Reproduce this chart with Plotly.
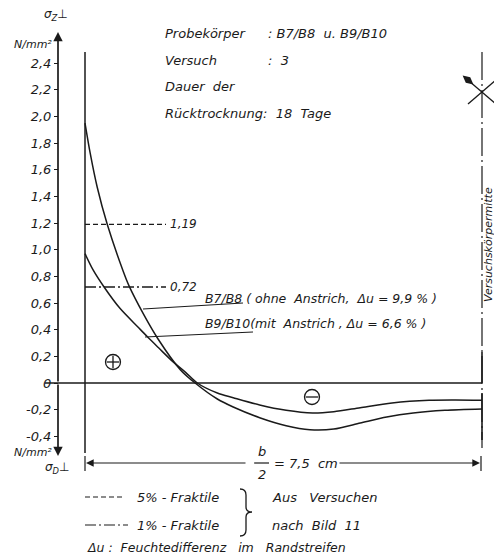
import plotly.graph_objects as go

# ---------------- data ----------------
x_b78 = [0, 0.1, 0.23, 0.42, 0.72, 0.83, 1.1, 1.38, 1.8, 2.08, 2.5, 2.8, 3.3, 3.8, 4.25, 4.7, 5.2, 5.7, 6.2, 6.8, 7.5]
y_b78 = [1.95, 1.72, 1.47, 1.19, 0.84, 0.73, 0.52, 0.33, 0.10, 0.0, -0.12, -0.18, -0.26, -0.32, -0.35, -0.345, -0.30, -0.255, -0.225, -0.205, -0.195]

x_b910 = [0, 0.15, 0.36, 0.66, 1.0, 1.17, 1.4, 1.66, 1.9, 2.12, 2.5, 2.8, 3.3, 3.8, 4.3, 4.7, 5.2, 5.8, 6.5, 7.0, 7.5]
y_b910 = [0.97, 0.85, 0.72, 0.56, 0.42, 0.35, 0.26, 0.16, 0.08, 0.0, -0.075, -0.11, -0.165, -0.205, -0.225, -0.215, -0.185, -0.15, -0.13, -0.128, -0.13]

fraktile_vals = [1.19, 0.72]
fraktile_labels = ["1,19", "0,72"]

tick_vals = [2.4, 2.2, 2.0, 1.8, 1.6, 1.4, 1.2, 1.0, 0.8, 0.6, 0.4, 0.2, 0, -0.2, -0.4]
tick_text = ["2,4", "2,2", "2,0", "1,8", "1,6", "1,4", "1,2", "1,0", "0,8", "0,6", "0,4", "0,2", "0", "-0,2", "-0,4"]

b_half = 7.5

# ---------------- layout helpers (pixel -> axis units) ----------------
W, H = 494, 557
PX_X0, PX_XE = 85, 482
SX = (PX_XE - PX_X0) / b_half
PX_Y0 = 383
SY = 133.33


def X(px):
    return (px - PX_X0) / SX


def Y(py):
    return (PX_Y0 - py) / SY


FONT = "DejaVu Sans"
BLACK = "#1a1a1a"

fig = go.Figure()

# stress curves
for xs, ys in [(x_b78, y_b78), (x_b910, y_b910)]:
    fig.add_trace(go.Scatter(x=xs, y=ys, mode="lines",
                             line=dict(color=BLACK, width=1.5, shape="spline", smoothing=0.8),
                             hoverinfo="skip", showlegend=False))

# fractile lines
dashes = ["5px,3px", "11px,3px,2px,3px"]
for v, lab, d in zip(fraktile_vals, fraktile_labels, dashes):
    fig.add_trace(go.Scatter(x=[0, X(166)], y=[v, v], mode="lines",
                             line=dict(color=BLACK, width=1.3, dash=d),
                             hoverinfo="skip", showlegend=False))
    fig.add_annotation(x=X(168), y=v, text=lab, showarrow=False, xanchor="left",
                       font=dict(family=FONT, size=12, style="italic", color=BLACK))

shapes = []


def line(px0, py0, px1, py1, w=1.4, dash=None):
    d = dict(type="line", xref="x", yref="y", x0=X(px0), y0=Y(py0), x1=X(px1), y1=Y(py1),
             line=dict(color=BLACK, width=w))
    if dash:
        d["line"]["dash"] = dash
    shapes.append(d)


# left boundary (x = 0)
line(85, 52, 85, 453, 1.5)
# zero line
line(45, 383, 482, 383, 1.6)
# centre line (Versuchskörpermitte)
line(482, 52, 482, 448, 1.2, "28px,4px,2px,4px")
line(482, 352, 482, 383, 1.6)
line(482, 393, 482, 440, 1.6)
# symmetry symbol
line(469, 81, 496, 104, 1.3)
line(468, 104, 496, 80, 1.3)
# leader lines
line(143, 309, 243, 303, 1.2)
line(145, 337, 253, 332, 1.2)
# dimension line ticks
line(85, 456, 85, 471, 1.2)
line(481, 456, 481, 471, 1.2)
# fraction bar
line(254, 463, 269, 463, 1.2)
# legend samples
line(85, 497, 125, 497, 1.2, "5px,3px")
line(85, 525, 128, 525, 1.2, "11px,3px,2px,3px")

# brace
path = (f"M {X(240)},{Y(489)} Q {X(246)},{Y(489)} {X(246)},{Y(495)} L {X(246)},{Y(507)} "
        f"Q {X(246)},{Y(512)} {X(252)},{Y(512)} Q {X(246)},{Y(512)} {X(246)},{Y(517)} "
        f"L {X(246)},{Y(530)} Q {X(246)},{Y(536)} {X(240)},{Y(536)}")
shapes.append(dict(type="path", xref="x", yref="y", path=path, line=dict(color=BLACK, width=1.3)))

fig.update_layout(shapes=shapes)

# diamond flag of symmetry symbol, circled signs
fig.add_trace(go.Scatter(x=[X(468)], y=[Y(80)], mode="markers",
                         marker=dict(symbol="diamond-wide", size=10, color=BLACK, angle=40),
                         hoverinfo="skip", showlegend=False))
fig.add_trace(go.Scatter(x=[X(113), X(312)], y=[Y(362), Y(397)], mode="markers",
                         marker=dict(symbol="circle-open", size=15, color=BLACK,
                                     line=dict(width=1.3, color=BLACK)),
                         hoverinfo="skip", showlegend=False))
fig.add_trace(go.Scatter(x=[X(113), X(312)], y=[Y(362), Y(397)], mode="markers",
                         marker=dict(symbol="line-ew-open", size=9, color=BLACK,
                                     line=dict(width=1.3, color=BLACK)),
                         hoverinfo="skip", showlegend=False))
fig.add_trace(go.Scatter(x=[X(113)], y=[Y(362)], mode="markers",
                         marker=dict(symbol="line-ns-open", size=9, color=BLACK,
                                     line=dict(width=1.3, color=BLACK)),
                         hoverinfo="skip", showlegend=False))


def text(px, py, s, size=13, anchor="left", angle=0):
    fig.add_annotation(x=X(px), y=Y(py), text=s, showarrow=False, xanchor=anchor, yanchor="middle",
                       textangle=angle,
                       font=dict(family=FONT, size=size, style="italic", color=BLACK))


# header texts
text(163, 33, "Probekörper")
text(266, 33, ": B7/B8  u. B9/B10")
text(163, 60, "Versuch")
text(266, 60, ":  3")
text(163, 86, "Dauer  der")
text(163, 113, "Rücktrocknung:  18  Tage")

# curve labels
text(203, 298, "B7/B8 ( ohne  Anstrich,  Δu = 9,9 % )", 12.5)
text(203, 323, "B9/B10(mit  Anstrich , Δu = 6,6 % )", 12.5)

# axis labels
text(56, 15, "σ<sub>Z</sub>⊥", 12, "center")
text(54, 44, "N/mm²", 11, "right")
text(54, 452, "N/mm²", 11, "right")
text(57, 468, "σ<sub>D</sub>⊥", 12, "center")

# right vertical label
text(488, 245, "Versuchskörpermitte", 11, "center", -90)

# dimension
text(262, 451, "b", 13, "center")
text(262, 474, "2", 13, "center")
text(272, 463, "= 7,5  cm", 13)
fig.add_annotation(x=X(86), y=Y(463), ax=X(247), ay=Y(463), axref="x", ayref="y",
                   text="", showarrow=True, arrowhead=2, arrowsize=1.4, arrowwidth=1.1, arrowcolor=BLACK)
fig.add_annotation(x=X(480), y=Y(463), ax=X(338), ay=Y(463), axref="x", ayref="y",
                   text="", showarrow=True, arrowhead=2, arrowsize=1.4, arrowwidth=1.1, arrowcolor=BLACK)

# y axis arrows
fig.add_annotation(x=X(58), y=Y(32), ax=X(58), ay=Y(383), axref="x", ayref="y",
                   text="", showarrow=True, arrowhead=2, arrowsize=1.1, arrowwidth=1.7, arrowcolor=BLACK)
fig.add_annotation(x=X(58), y=Y(456), ax=X(58), ay=Y(383), axref="x", ayref="y",
                   text="", showarrow=True, arrowhead=2, arrowsize=1.1, arrowwidth=1.7, arrowcolor=BLACK)

# legend texts
text(135, 497, "5% - Fraktile", 13)
text(135, 525, "1% - Fraktile", 13)
text(270, 497, "Aus   Versuchen", 13)
text(270, 525, "nach  Bild  11", 13)
text(85, 547, "Δu :  Feuchtedifferenz   im   Randstreifen", 12.5)

fig.update_layout(
    width=W, height=H, autosize=False,
    margin=dict(l=0, r=0, t=0, b=0, pad=0),
    paper_bgcolor="white", plot_bgcolor="white",
    xaxis=dict(range=[X(0), X(W)], visible=False, fixedrange=True),
    yaxis=dict(range=[Y(H), Y(0)], anchor="free", position=58 / W, showgrid=False, zeroline=False,
               showline=False, ticks="outside", ticklen=4, tickwidth=1.3, tickcolor=BLACK,
               tickvals=tick_vals, ticktext=tick_text, automargin=False,
               tickfont=dict(family=FONT, size=13, style="italic", color=BLACK), fixedrange=True),
    showlegend=False,
)

fig.write_html("out.html")
